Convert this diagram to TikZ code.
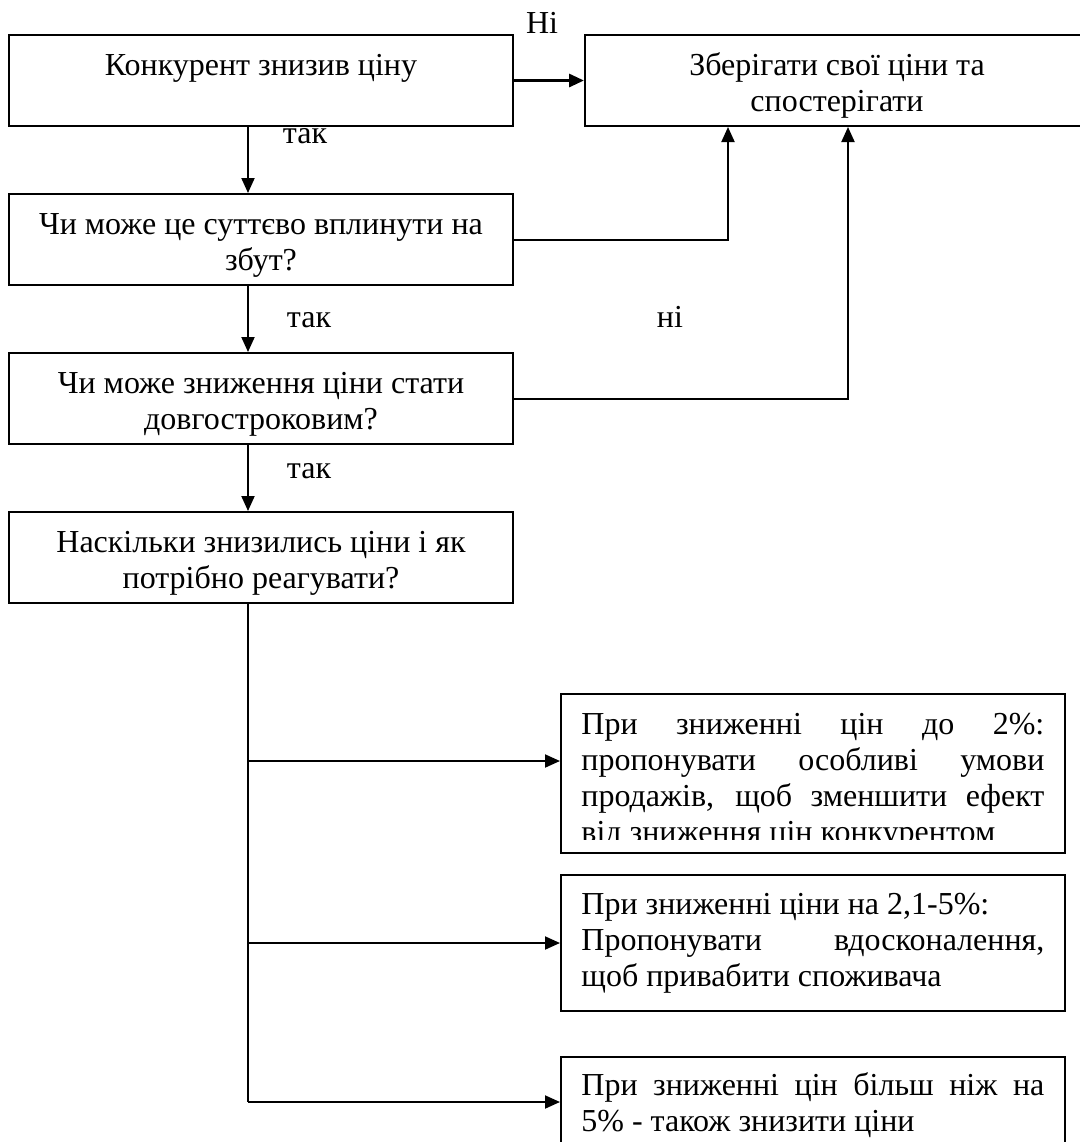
\documentclass[tikz,border=0pt]{standalone}
\usepackage{fontspec}
\setmainfont{Liberation Serif}
\usetikzlibrary{arrows.meta,positioning,calc}
\newcommand{\jline}[1]{\makebox[231.5pt][s]{#1}}

\begin{document}
\begin{tikzpicture}[x=0.5pt,y=-0.5pt,
  box/.style={draw, line width=1pt, minimum width=252pt, minimum height=45.5pt, anchor=north west, inner sep=0pt},
  boxtxt/.style={anchor=north, inner sep=0pt, align=center, font=\fontsize{16}{18}\selectfont},
  parbox/.style={anchor=north west, inner sep=0pt, align=left, font=\fontsize{16}{18}\selectfont},
  lbl/.style={anchor=base, inner sep=0pt, font=\fontsize{16}{18}\selectfont},
  link/.style={line width=1pt, -{Triangle[length=7.5pt,width=6.5pt]}}]
\useasboundingbox (0,0) rectangle (1080,1142);
\clip (0,0) rectangle (1080,1142);
% decision column
\node[box] (drop) at (8,34) {};
\node[box] (keep) at (584,34) {};
\node[box] (sales) at (8,193) {};
\node[box] (longterm) at (8,352) {};
\node[box] (howmuch) at (8,511) {};
\node[boxtxt] at ($(drop.north)+(0,15.5)$) {\strut Конкурент знизив ціну};
\node[boxtxt] at ($(keep.north)+(0,15.5)$) {\strut Зберігати свої ціни та\\спостерігати};
\node[boxtxt] at ($(sales.north)+(0,15.5)$) {\strut Чи може це суттєво вплинути на\\збут?};
\node[boxtxt] at ($(longterm.north)+(0,15.5)$) {\strut Чи може зниження ціни стати\\довгостроковим?};
\node[boxtxt] at ($(howmuch.north)+(0,15.5)$) {\strut Наскільки знизились ціни і як\\потрібно реагувати?};
% reactions
\node[box, minimum height=79.5pt] (upto2) at (560,693) {};
\node[box, minimum height=68pt] (upto5) at (560,874) {};
\node[box, minimum height=50pt] (over5) at (560,1056) {};
\begin{scope}
\clip (560,693) rectangle (1064,839);
\node[parbox] at (581,709) {\strut\jline{При зниженні цін до 2\%:}\\\jline{пропонувати особливі умови}\\\jline{продажів, щоб зменшити ефект}\\від зниження цін конкурентом};
\end{scope}
\node[parbox] at (581,889) {\strut При зниженні ціни на 2,1-5\%:\\\jline{Пропонувати вдосконалення,}\\щоб привабити споживача};
\node[parbox] at (581,1070) {\strut\jline{При зниженні цін більш ніж на}\\5\% - також знизити ціни};
% labels
\node[lbl] (no1) at (542,33) {Ні};
\node[lbl] (yes1) at (305,143) {так};
\node[lbl] (yes2) at (309,327) {так};
\node[lbl] (no2) at (670,327) {ні};
\node[lbl] (yes3) at (309,478) {так};
% connectors
\draw[link, line width=1.5pt] (drop.east) -- (keep.west);
\draw[link] ([xshift=120pt]drop.south west) -- ([xshift=120pt]sales.north west);
\draw[link] ([xshift=120pt]sales.south west) -- ([xshift=120pt]longterm.north west);
\draw[link] ([xshift=120pt]longterm.south west) -- ([xshift=120pt]howmuch.north west);
\draw[link] (sales.east) -| ([xshift=72pt]keep.south west);
\draw[link] (longterm.east) -| ([xshift=132pt]keep.south west);
\coordinate (trunk) at ([xshift=120pt]howmuch.south west);
\coordinate (in2) at ([yshift=-34pt]upto2.north west);
\coordinate (in5) at (upto5.west);
\coordinate (in9) at ([yshift=-23pt]over5.north west);
\draw[line width=1pt] (trunk) -- (trunk |- in9);
\foreach \t in {in2,in5,in9}
  \draw[link] (trunk |- \t) -- (\t);
\end{tikzpicture}
\end{document}
